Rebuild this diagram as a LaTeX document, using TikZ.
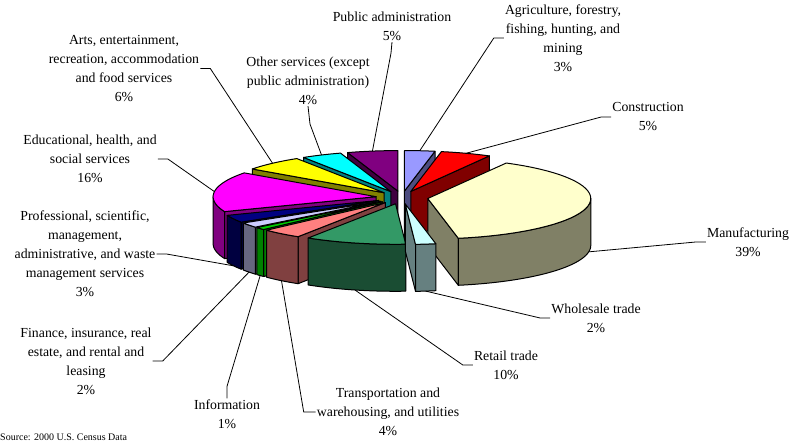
\documentclass[tikz,border=0pt]{standalone}
\usepackage{fontspec}
\setmainfont{Liberation Serif}
\definecolor{agT}{HTML}{9999FF}\definecolor{agS}{HTML}{4D4D80}
\definecolor{coT}{HTML}{FF0000}\definecolor{coS}{HTML}{800000}
\definecolor{maT}{HTML}{FFFFCC}\definecolor{maS}{HTML}{808066}
\definecolor{whT}{HTML}{CCFFFF}\definecolor{whS}{HTML}{668080}
\definecolor{reT}{HTML}{339966}\definecolor{reS}{HTML}{1A4D33}
\definecolor{trT}{HTML}{FF8080}\definecolor{trS}{HTML}{804040}
\definecolor{inT}{HTML}{00CC00}\definecolor{inS}{HTML}{008000}
\definecolor{fiT}{HTML}{CCCCFF}\definecolor{fiS}{HTML}{666680}
\definecolor{prT}{HTML}{000080}\definecolor{prS}{HTML}{000040}
\definecolor{edT}{HTML}{FF00FF}\definecolor{edS}{HTML}{800080}
\definecolor{arT}{HTML}{FFFF00}\definecolor{arS}{HTML}{808000}
\definecolor{otT}{HTML}{00FFFF}\definecolor{otS}{HTML}{008080}
\definecolor{puT}{HTML}{800080}\definecolor{puS}{HTML}{400040}
\def\pcx{402}\def\pcy{197.5}\def\prx{163}\def\pry{40.5}\def\pdep{47}\def\pex{0.16}
\newcommand{\pieslice}[5]{%
  \pgfmathsetmacro{\psm}{(#1+#2)/2}%
  \pgfmathsetmacro{\pox}{\pcx+\pex*\prx*sin(\psm)}%
  \pgfmathsetmacro{\poy}{\pcy-\pex*\pry*cos(\psm)}%
  \pgfmathsetmacro{\poyd}{\poy+\pdep}%
  \pgfmathtruncatemacro{\psw}{(sin(#1)<-0.001) ? 1 : 0}%
  \ifnum\psw=1
    \filldraw[pieface, fill=#4] (\pox,\poy) -- ({\pox+\prx*sin(#1)},{\poy-\pry*cos(#1)})
      -- ({\pox+\prx*sin(#1)},{\poyd-\pry*cos(#1)}) -- (\pox,\poyd) -- cycle;
  \fi
  \pgfmathtruncatemacro{\pew}{(sin(#2)>0.001) ? 1 : 0}%
  \ifnum\pew=1
    \filldraw[pieface, fill=#4] (\pox,\poy) -- ({\pox+\prx*sin(#2)},{\poy-\pry*cos(#2)})
      -- ({\pox+\prx*sin(#2)},{\poyd-\pry*cos(#2)}) -- (\pox,\poyd) -- cycle;
  \fi
  \pgfmathsetmacro{\pta}{max(#1,90)}%
  \pgfmathsetmacro{\ptb}{min(#2,270)}%
  \pgfmathtruncatemacro{\pow}{(\ptb>\pta) ? 1 : 0}%
  \ifnum\pow=1
    \filldraw[pieface, fill=#4] plot[domain=\pta:\ptb, samples=40, variable=\x]
      ({\pox+\prx*sin(\x)},{\poy-\pry*cos(\x)})
      -- plot[domain=\ptb:\pta, samples=40, variable=\x]
      ({\pox+\prx*sin(\x)},{\poyd-\pry*cos(\x)}) -- cycle;
  \fi
  \filldraw[pieface, fill=#3] (\pox,\poy) -- plot[domain=#1:#2, samples=40, variable=\x]
      ({\pox+\prx*sin(\x)},{\poy-\pry*cos(\x)}) -- cycle;
  \pgfmathtruncatemacro{\pfr}{(cos(\psm)<0) ? 1 : 0}%
  \ifnum\pfr=1
    \coordinate (#5) at ({\pox+\prx*sin(\psm)},{\poyd-\pry*cos(\psm)});
  \else
    \coordinate (#5) at ({\pox+\prx*sin(\psm)},{\poy-\pry*cos(\psm)});
  \fi
}
\tikzset{
  pieface/.style={draw=black, line width=1pt, line join=round},
  lbl/.style={align=center, font=\fontsize{13.8}{19}\selectfont, inner sep=1pt},
  leader/.style={draw=black, line width=0.8pt},
}
\begin{document}
\begin{tikzpicture}[x=1pt,y=-1pt]
\useasboundingbox (0,0) rectangle (799,446);
\fill[white] (0,0) rectangle (799,446);
% slices, back to front
\pieslice{0}{10.8}{agT}{agS}{ag}
\pieslice{342}{360}{puT}{puS}{pu}
\pieslice{10.8}{28.8}{coT}{coS}{co}
\pieslice{327.6}{342}{otT}{otS}{ot}
\pieslice{306}{327.6}{arT}{arS}{ar}
\pieslice{248.4}{306}{edT}{edS}{ed}
\pieslice{28.8}{169.2}{maT}{maS}{ma}
\pieslice{237.6}{248.4}{prT}{prS}{pr}
\pieslice{230.4}{237.6}{fiT}{fiS}{fi}
\pieslice{226.8}{230.4}{inT}{inS}{info}
\pieslice{212.4}{226.8}{trT}{trS}{tr}
\pieslice{176.4}{212.4}{reT}{reS}{re}
\pieslice{169.2}{176.4}{whT}{whS}{wh}
% labels
\node[lbl] (agL) at (563,38) {Agriculture, forestry,\\fishing, hunting, and\\mining\\3\%};
\node[lbl] (coL) at (648,117) {Construction\\5\%};
\node[lbl] (maL) at (748,242) {Manufacturing\\39\%};
\node[lbl] (whL) at (596,318) {Wholesale trade\\2\%};
\node[lbl] (reL) at (506,365) {Retail trade\\10\%};
\node[lbl] (trL) at (388,412) {Transportation and\\warehousing, and utilities\\4\%};
\node[lbl] (infoL) at (227,414) {Information\\1\%};
\node[lbl] (fiL) at (86,361) {Finance, insurance, real\\estate, and rental and\\leasing\\2\%};
\node[lbl] (prL) at (85,254) {Professional, scientific,\\management,\\administrative, and waste\\management services\\3\%};
\node[lbl] (edL) at (90,159) {Educational, health, and\\social services\\16\%};
\node[lbl] (arL) at (124,68.5) {Arts, entertainment,\\recreation, accommodation\\and food services\\6\%};
\node[lbl] (otL) at (308,81) {Other services (except\\public administration)\\4\%};
\node[lbl] (puL) at (392,26.5) {Public administration\\5\%};
\node[anchor=west, inner sep=0pt, font=\fontsize{10}{12}\selectfont] (src) at (0,437) {Source: 2000 U.S. Census Data};
% leaders
\draw[leader] (agL.west) -- ++(-10,0) -- (ag);
\draw[leader] (coL.west) -- ++(-10,0) -- (co);
\draw[leader] (maL.west) -- ++(-10,0) -- (ma);
\draw[leader] (whL.west) -- ++(-10,0) -- (wh);
\draw[leader] (reL.west) -- ++(-10,0) -- (re);
\draw[leader] (trL.west) -- ++(-12,0) -- (tr);
\draw[leader] (infoL.north) -- ++(0,-12) -- (info);
\draw[leader] (fiL.east) -- ++(10,0) -- (fi);
\draw[leader] (prL.east) -- ++(10,0) -- (pr);
\draw[leader] (edL.east) -- ++(10,0) -- (ed);
\draw[leader] (arL.east) -- ++(10,0) -- (ar);
\draw[leader] (otL.south) -- ++(2,18) -- (ot);
\draw[leader] (puL.south) -- ++(-1,11) -- (pu);
\end{tikzpicture}
\end{document}
